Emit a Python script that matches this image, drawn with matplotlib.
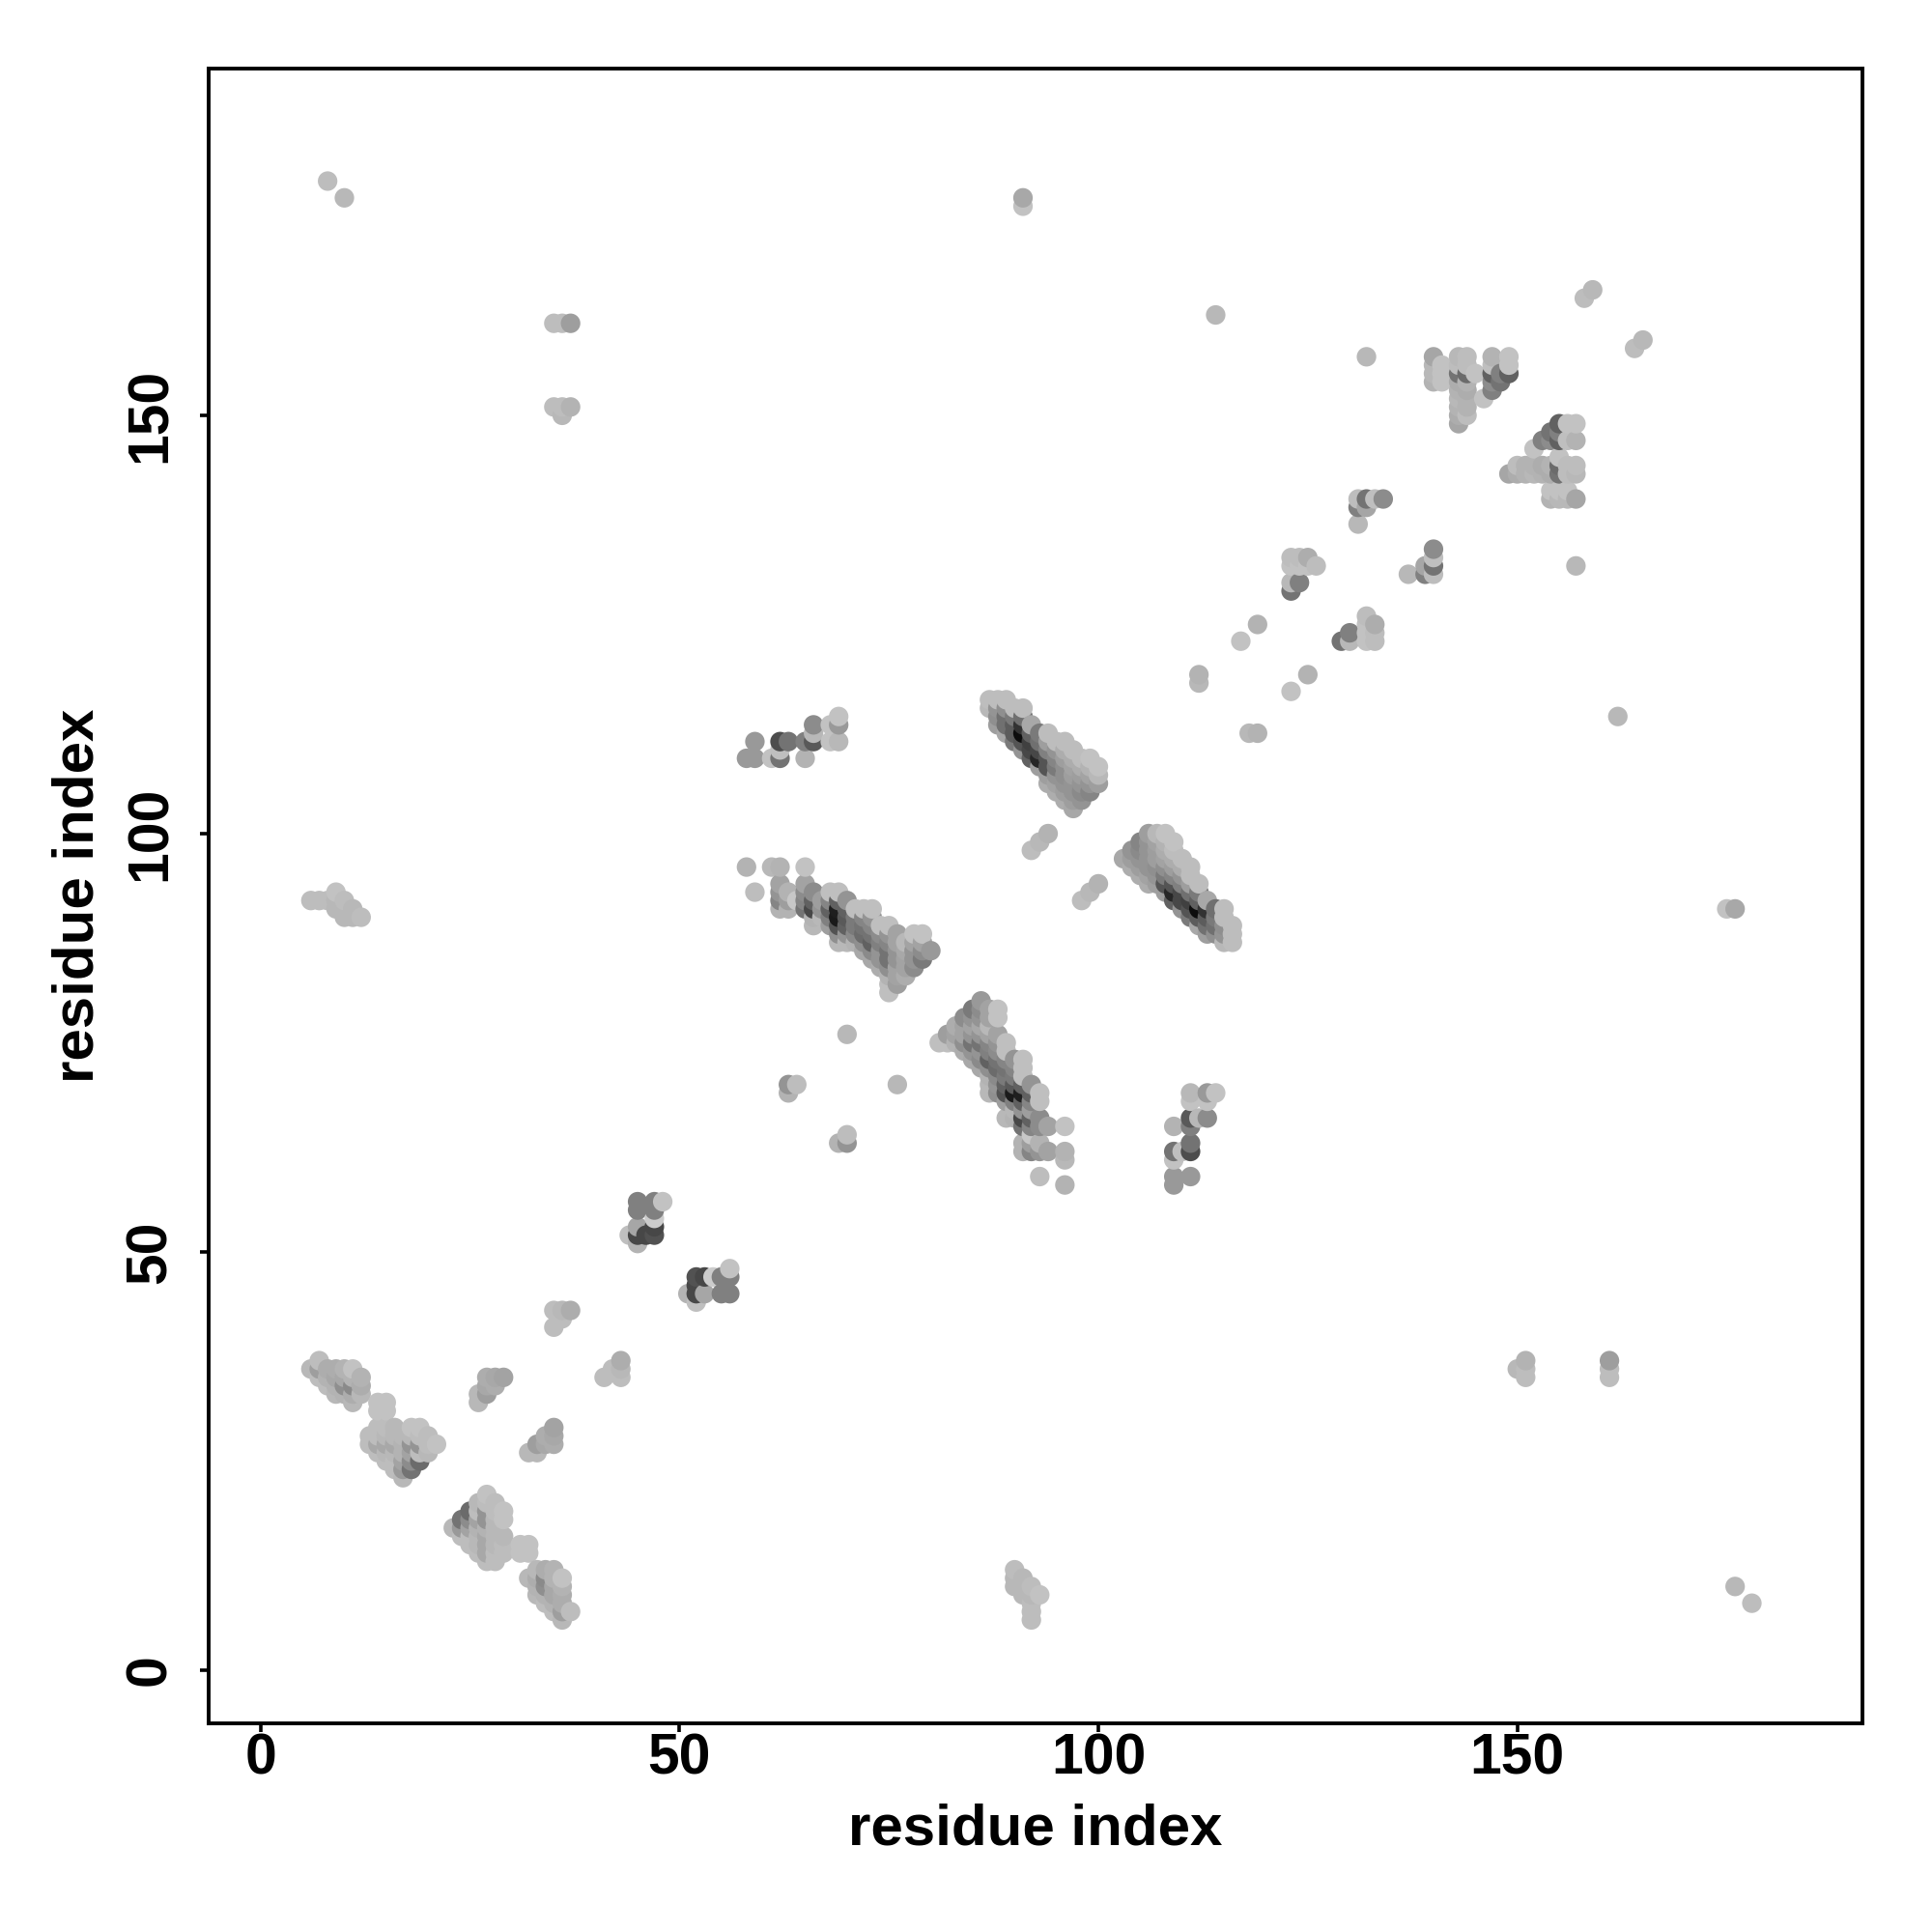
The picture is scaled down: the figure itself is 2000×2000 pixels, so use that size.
import matplotlib
matplotlib.use("Agg")
import matplotlib.pyplot as plt

# contact map, symmetric: only i<j is listed, each row is (i, first j, grey of j, j+1, ...)
sheet_a = [(6,36,[.72]),(7,35,[.74,.62,.74]),(8,34,[.74,.70,.68]),(9,33,[.72,.70,.66,.68]),
           (10,33,[.70,.56,.66,.70]),(11,32,[.72,.68,.54,.70,.76]),(12,33,[.72,.68,.70])]
sheet_b = [(13,27,[.74,.74]),(14,26,[.74,.66,.74,.74]),(14,31,[.76,.76]),(15,25,[.74,.72,.66,.72,.74]),
           (15,31,[.76,.76]),(16,24,[.74,.74,.72,.66,.72,.72]),(17,23,[.72,.60,.64,.70,.70,.72]),
           (18,24,[.45,.55,.64,.58,.72,.76]),(19,25,[.42,.74,.58,.74,.76]),(20,26,[.72,.74,.74]),(21,27,[.76])]
sheet_f = [(26,32,[.72,.72]),(27,33,[.62,.66,.68]),(28,34,[.68,.66]),(29,35,[.64]),
           (35,41,[.74]),(35,43,[.74]),(36,42,[.74,.72]),(37,43,[.68])]
sheet_g = [(44,52,[.75]),(45,51,[.70,.28,.65]),(45,55,[.50,.50]),(46,52,[.28]),(47,52,[.32,.28,.80,.50,.50]),(48,56,[.76])]
sheet_c = [(58,96,[.70]),(59,93,[.74]),(61,96,[.72]),(62,91,[.70,.52,.58,.64]),(62,96,[.70]),(63,91,[.70,.62,.70]),
           (64,92,[.78]),(65,91,[.45,.52,.55,.64]),(65,96,[.76]),(66,89,[.72,.70,.28,.38,.55]),(67,90,[.72,.58,.62]),
           (68,89,[.62,.50,.38,.52,.75]),(69,87,[.72,.56,.32,.10,.12,.38,.75]),(70,87,[.72,.58,.38,.35,.38,.58]),
           (71,87,[.70,.54,.48,.48,.75]),(72,86,[.66,.56,.42,.45,.52,.75]),(73,85,[.66,.54,.38,.45,.52,.58,.75]),
           (74,84,[.68,.58,.58,.50,.55,.75]),(75,81,[.75,.75,.70,.56,.45,.45,.52,.58,.75]),
           (76,82,[.62,.64,.64,.58,.58,.64,.64]),(77,83,[.68,.64,.64,.66,.72]),(78,84,[.55,.58,.58,.64,.76]),
           (79,85,[.48,.55,.64,.76]),(80,86,[.60])]
sheet_e = [(87,115,[.72,.74]),(88,113,[.62,.56,.58,.74]),(89,112,[.66,.44,.44,.56,.74]),(90,111,[.48,.36,.36,.48,.74]),
           (91,110,[.58,.33,.05,.20,.44,.74]),(92,109,[.38,.28,.25,.38,.66]),(93,108,[.62,.15,.28,.44,.48]),
           (94,106,[.68,.62,.33,.33,.50,.62,.74]),(95,105,[.68,.64,.58,.48,.52,.58,.74]),
           (96,104,[.68,.62,.58,.56,.56,.62,.68,.74]),(97,103,[.66,.62,.58,.58,.62,.64,.68,.74]),
           (98,104,[.58,.54,.58,.62,.68,.74]),(99,105,[.52,.58,.64,.70,.76]),(100,106,[.62,.72,.76])]
strand_h = [(58,109,[.60]),(59,109,[.60]),(59,111,[.60]),(61,109,[.76]),(62,109,[.45,.75,.30]),(63,111,[.45]),
            (65,109,[.70]),(65,111,[.50]),(66,111,[.35,.72,.55]),(68,111,[.76]),(68,113,[.76]),
            (69,111,[.72]),(69,113,[.60,.76]),(63,69,[.70,.58]),(64,70,[.74]),(70,76,[.72]),
            (92,98,[.74]),(93,99,[.72]),(94,100,[.70])]
strand_j = [(112,118,[.72,.70]),(117,123,[.76]),(119,125,[.70]),(123,129,[.45,.72]),(123,132,[.76,.74]),
            (124,130,[.50]),(124,132,[.76,.74]),(125,132,[.76,.68]),(126,132,[.74]),
            (131,137,[.72]),(131,139,[.50,.74]),(132,139,[.65,.45]),(133,140,[.75]),(134,140,[.55])]
sheet_k = [(140,154,[.70,.72,.72,.65]),(141,154,[.76,.76,.76]),
           (143,149,[.65,.68,.70,.72,.70,.68,.45,.74,.72]),(144,150,[.74,.70,.70,.68,.70,.42,.74,.74]),
           (145,155,[.76]),(146,152,[.76]),(147,153,[.50,.55,.38,.75,.70]),(148,154,[.45,.50]),
           (149,155,[.38,.76,.76])]
lone = [(6,92,[.74]),(7,92,[.74]),(8,92,[.74]),(9,91,[.72,.72,.76]),(10,90,[.72,.72,.74]),(11,90,[.72,.72]),(12,90,[.74]),
        (8,178,[.74]),(10,176,[.72]),(91,175,[.76,.66]),(35,151,[.74]),(36,150,[.72,.74]),(37,151,[.70]),
        (35,161,[.74]),(36,161,[.74]),(37,161,[.62]),(114,162,[.72]),(132,157,[.72]),(158,164,[.74]),(159,165,[.72])]

rows = sheet_a + sheet_b + sheet_f + sheet_g + sheet_c + sheet_e + strand_h + strand_j + sheet_k + lone
pts = []
for i, j0, greys in rows:
    for k, g in enumerate(greys):
        pts.append((i, j0 + k, g))
        pts.append((j0 + k, i, g))
# R drew them in matrix order, later ones sit on top
pts.sort()
px = [p[0] for p in pts]
py = [p[1] for p in pts]
cols = [str(p[2]) for p in pts]

plt.rcParams['font.family'] = ['Liberation Sans', 'DejaVu Sans']
plt.rcParams['font.weight'] = 'bold'

fig = plt.figure(figsize=(10, 10), dpi=200)
ax = fig.add_axes([216/2000, 1-1784/2000, (1928-216)/2000, (1784-71)/2000])
ax.scatter(px, py, s=53, c=cols, linewidths=0, zorder=3)
ax.set_xlim(-6.2, 191.2)
ax.set_ylim(-6.36, 191.45)
ax.set_xticks([0, 50, 100, 150])
ax.set_yticks([0, 50, 100, 150])
ax.tick_params(length=3.2, width=1.3, labelsize=21.2, pad=0.2)
ax.tick_params(axis='y', pad=8.5)
for t in ax.get_yticklabels():
    t.set_rotation(90)
    t.set_va('center')
for s in ax.spines.values():
    s.set_linewidth(1.4)
fig.text(1072/2000, 1-1893.5/2000, "residue index", fontsize=21.6, fontweight='bold', ha='center', va='center')
fig.text(81.5/2000, 1-927/2000, "residue index", fontsize=21.6, fontweight='bold', ha='center', va='center', rotation=90)
fig.savefig("out.png", dpi=200)
